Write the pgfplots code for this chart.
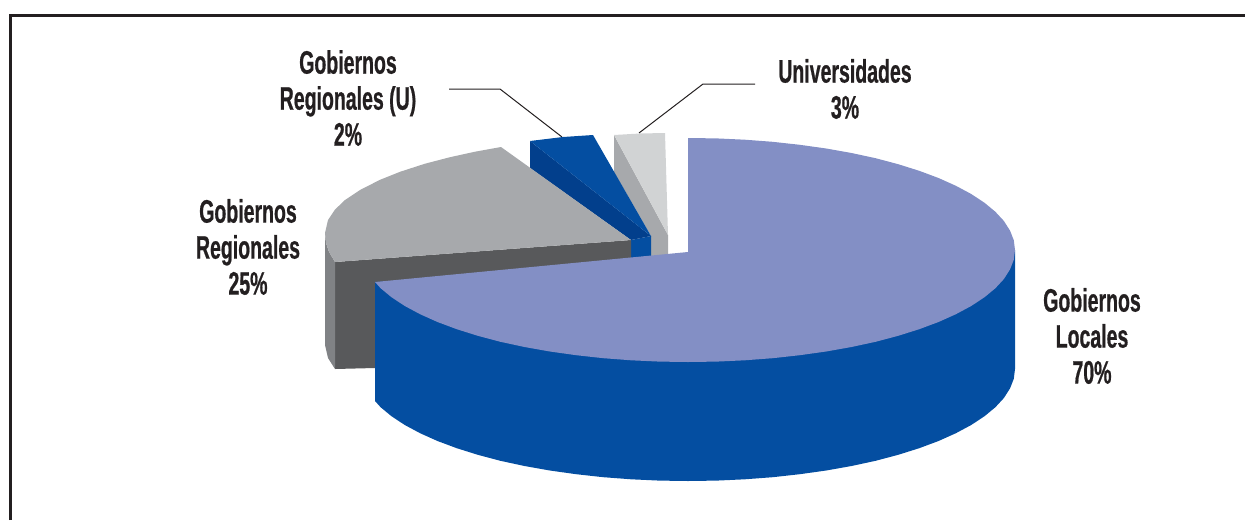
\documentclass[border=0pt]{standalone}
\usepackage{pgfplots}
\pgfplotsset{compat=1.18}
\usepackage{fontspec}
\setmainfont[FakeStretch=0.6,BoldFont={Liberation Sans Bold},BoldFeatures={FakeBold=0.6}]{Liberation Sans}
\definecolor{ink}{HTML}{231F20}
\definecolor{bluemain}{HTML}{044EA1}
\definecolor{bluedark}{HTML}{023F8C}
\definecolor{purpletop}{HTML}{838FC5}
\definecolor{greytop}{HTML}{A7A9AC}
\definecolor{greydark}{HTML}{58595B}
\definecolor{greyside}{HTML}{808285}
\definecolor{greylight}{HTML}{D1D3D4}
\begin{document}
\begin{tikzpicture}
\useasboundingbox (0,0) rectangle (1245pt,520pt);
\begin{axis}[scale only axis,width=1245pt,height=520pt,xmin=0,xmax=1245,ymin=0,ymax=520,y dir=reverse,axis lines=none,clip=true,at={(0,0)},anchor=south west]
% frame
\addplot[ink,line width=3pt,no marks] coordinates {(10,520)(10,15)(1245,15)};
% leader lines
\addplot[ink,line width=1pt,no marks] coordinates {(449,89)(500,89)(562,137)};
\addplot[ink,line width=1pt,no marks] coordinates {(755,84)(703,84)(639,133)};
% universidades slice
\addplot[fill=greytop,draw=none] coordinates {(614,135)(668,235)(668,258)(651,258)(651,236)(614,172)} -- cycle;
\addplot[fill=greylight,draw=none] coordinates {(614,135)(640,133.5)(665,133)(668,235)} -- cycle;
% gobiernos regionales (U) slice
\addplot[fill=bluemain,draw=none] coordinates {(631,240)(651,236)(651,262)(631,262)} -- cycle;
\addplot[fill=bluedark,draw=none] coordinates {(530,141)(530,168)(631,240)(651,236)} -- cycle;
\addplot[fill=bluemain,draw=none] coordinates {(530,141)(563,137)(593,135)(651,236)} -- cycle;
% gobiernos regionales slice
\addplot[fill=greydark,draw=none] coordinates {(335,262)(631,240)(631,270)(375,368)(335,369)} -- cycle;
\addplot[fill=greyside,draw=none] coordinates {(325,233)(326,243)(329,252)(335,262)(335,369)(328,358)(325,345)} -- cycle;
\addplot[fill=greytop,draw=none] coordinates {(501,147)(475,151.7)(450,157.2)(425,163.7)(400,171.8)(380,179.8)(360,190)(345,200)(335,209.6)(328,220)(325,233)(326,243)(329,252)(335,262)(631,240)} -- cycle;
% gobiernos locales side
\addplot[fill=bluemain,draw=none] coordinates {(1015,250)(1015,369)(1013.8,378.8)(1010,388.4)(1003.9,398)(995.3,407.3)(984.4,416.3)(971.2,425)(955.9,433.2)(938.5,441)(919.2,448.2)(898.2,454.8)(875.6,460.8)(851.5,466)(826.2,470.5)(799.8,474.2)(772.6,477.2)(744.8,479.3)(716.5,480.6)(688,481)(659.5,480.6)(631.2,479.3)(603.4,477.2)(576.2,474.2)(549.8,470.5)(524.5,466)(500.4,460.8)(477.8,454.8)(456.8,448.2)(437.5,441)(420.1,433.2)(404.8,425)(391.6,416.3)(380.7,407.3)(375,401)(375,282)} -- cycle;
% gobiernos locales top
\addplot[fill=purpletop,draw=none] coordinates {(688,138)(716.5,138.4)(744.8,139.7)(772.6,141.8)(799.8,144.8)(826.2,148.5)(851.5,153)(875.6,158.2)(898.2,164.2)(919.2,170.8)(938.5,178)(955.9,185.8)(971.2,194)(984.4,202.7)(995.3,211.7)(1003.9,221)(1010,230.6)(1013.8,240.2)(1015,250)(1013.8,259.8)(1010,269.4)(1003.9,279)(995.3,288.3)(984.4,297.3)(971.2,306)(955.9,314.2)(938.5,322)(919.2,329.2)(898.2,335.8)(875.6,341.8)(851.5,347)(826.2,351.5)(799.8,355.2)(772.6,358.2)(744.8,360.3)(716.5,361.6)(688,362)(659.5,361.6)(631.2,360.3)(603.4,358.2)(576.2,355.2)(549.8,351.5)(524.5,347)(500.4,341.8)(477.8,335.8)(456.8,329.2)(437.5,322)(420.1,314.2)(404.8,306)(391.6,297.3)(380.7,288.3)(375,282)(688,252)} -- cycle;
% labels
\tikzset{lab/.style={align=center,text=ink,font=\fontsize{32.5}{36}\selectfont\bfseries,inner sep=0pt}}
\node[lab] at (axis cs:348,98) {Gobiernos\\Regionales (U)\\2\%};
\node[lab] at (axis cs:248,247) {Gobiernos\\Regionales\\25\%};
\node[lab] at (axis cs:845,89) {Universidades\\3\%};
\node[lab] at (axis cs:1092,336) {Gobiernos\\Locales\\70\%};
\end{axis}
\end{tikzpicture}
\end{document}
